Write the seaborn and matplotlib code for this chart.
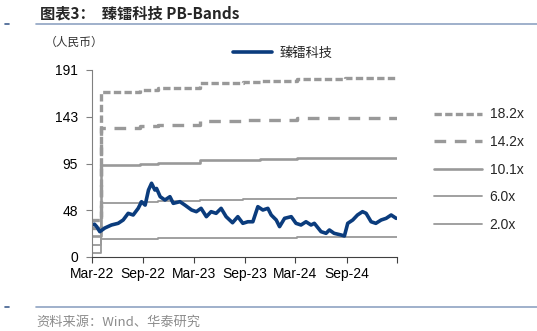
import matplotlib
matplotlib.use("Agg")
import matplotlib.pyplot as plt
from matplotlib.lines import Line2D
import seaborn as sns
import pandas as pd

# ---------------- data ----------------
price_dates = ["2022-03-01", "2022-03-10", "2022-03-18", "2022-03-29", "2022-04-16", "2022-05-10",
               "2022-06-03", "2022-06-21", "2022-07-09", "2022-07-27", "2022-08-14", "2022-08-26",
               "2022-09-08", "2022-09-20", "2022-10-01", "2022-10-13", "2022-10-19", "2022-11-01",
               "2022-11-18", "2022-12-06", "2022-12-18", "2023-01-11", "2023-01-29", "2023-02-22",
               "2023-03-11", "2023-03-28", "2023-04-16", "2023-05-03", "2023-05-21", "2023-06-08",
               "2023-06-26", "2023-07-19", "2023-08-07", "2023-08-25", "2023-09-12", "2023-09-30",
               "2023-10-18", "2023-11-05", "2023-11-23", "2023-12-05", "2023-12-23", "2024-01-04",
               "2024-01-22", "2024-02-15", "2024-03-03", "2024-03-21", "2024-04-08", "2024-04-26",
               "2024-05-08", "2024-06-01", "2024-06-19", "2024-07-01", "2024-07-18", "2024-08-12",
               "2024-08-24", "2024-09-05", "2024-09-23", "2024-10-10", "2024-10-28", "2024-11-10",
               "2024-11-28", "2024-12-15", "2025-01-03", "2025-01-21", "2025-02-08", "2025-02-26"]
price_values = [32.7, 33.5, 31.0, 25.9, 29.6, 32.7,
                34.4, 37.8, 44.6, 42.9, 49.7, 56.5,
                53.0, 68.4, 75.3, 68.4, 70.0, 61.6,
                58.2, 61.6, 54.8, 56.5, 53.0, 48.0,
                46.3, 49.7, 41.2, 46.3, 44.6, 49.7,
                41.2, 35.0, 41.2, 34.4, 36.0, 36.0,
                51.4, 48.0, 49.7, 42.9, 37.8, 31.0,
                39.5, 41.2, 34.4, 32.7, 36.0, 32.7,
                34.4, 25.9, 24.2, 27.6, 24.2, 22.5,
                21.5, 34.4, 37.8, 42.9, 46.3, 44.6,
                36.0, 34.4, 37.8, 39.5, 42.9, 39.5]

# book value per share (step dates) used for the PB bands
bvps_dates = ["2022-03-01", "2022-04-02", "2022-08-20", "2022-10-25", "2023-03-25",
              "2023-08-25", "2023-10-25", "2024-03-05", "2024-08-25", "2025-02-28"]
bvps_values = [2.1, 9.26, 9.40, 9.49, 9.78, 9.82, 9.86, 9.99, 10.02, 10.02]

band_multiples = [18.2, 14.2, 10.1, 6.0, 2.0]
band_labels = ["18.2x", "14.2x", "10.1x", "6.0x", "2.0x"]

y_ticks = [0, 48, 95, 143, 191]
x_tick_dates = ["2022-03-01", "2022-09-01", "2023-03-01", "2023-09-01", "2024-03-01", "2024-09-01", "2025-03-01"]
x_tick_labels = ["Mar-22", "Sep-22", "Mar-23", "Sep-23", "Mar-24", "Sep-24", ""]

series_name = "臻镭科技"

# ---------------- styling ----------------
sns.set_style("ticks")
plt.rcParams["font.family"] = ["Liberation Sans", "Noto Sans CJK SC", "DejaVu Sans"]

W, H = 537, 331
fig = plt.figure(figsize=(W / 100, H / 100), dpi=100)
ax = fig.add_axes([92 / W, 1 - 257 / H, (397 - 92) / W, (257 - 70) / H])

price_df = pd.DataFrame({"date": pd.to_datetime(price_dates), "price": price_values})
bv_df = pd.DataFrame({"date": pd.to_datetime(bvps_dates), "bvps": bvps_values})

gray = "#999999"
band_styles = [
    dict(color=gray, lw=2.4, ls=(0, (2.2, 1.0))),
    dict(color=gray, lw=2.4, ls=(0, (3.5, 2.6))),
    dict(color=gray, lw=1.9, ls="-"),
    dict(color=gray, lw=1.3, ls="-"),
    dict(color=gray, lw=1.3, ls="-"),
]

for m, st in zip(band_multiples, band_styles):
    d = pd.DataFrame({"date": bv_df["date"], "v": bv_df["bvps"] * m})
    sns.lineplot(data=d, x="date", y="v", ax=ax, drawstyle="steps-post",
                 color=st["color"], linewidth=st["lw"], linestyle=st["ls"])

navy = "#0B3C7D"
sns.lineplot(data=price_df, x="date", y="price", ax=ax, color=navy, linewidth=2.6)

ax.set_xlim(pd.Timestamp("2022-03-01"), pd.Timestamp("2025-03-01"))
ax.set_ylim(0, 191)
ax.set_yticks(y_ticks)
ax.set_yticklabels([str(v) for v in y_ticks], fontsize=10)
ax.set_xticks(pd.to_datetime(x_tick_dates))
ax.set_xticklabels(x_tick_labels, fontsize=10)
ax.set_xlabel("")
ax.set_ylabel("")
for s in ["top", "right"]:
    ax.spines[s].set_visible(False)
ax.spines["left"].set_color("#808080")
ax.spines["bottom"].set_color("#404040")
ax.tick_params(axis="y", length=4, color="#808080", pad=6, labelcolor="black")
ax.tick_params(axis="x", length=4, color="#404040", pad=3, labelcolor="black")
ax.grid(False)

# legends
h_price = [Line2D([0], [0], color=navy, lw=2.6)]
fig.legend(h_price, [series_name], loc="center left",
           bbox_to_anchor=(221 / W, 1 - 53 / H), frameon=False,
           handlelength=3.0, handletextpad=0.55,
           prop={"family": ["Noto Sans CJK SC"], "size": 9.5})

h_bands = [Line2D([0], [0], color=st["color"], lw=st["lw"], ls=st["ls"]) for st in band_styles]
fig.legend(h_bands, band_labels, loc="upper left",
           bbox_to_anchor=(421 / W, 1 - 95 / H), frameon=False,
           fontsize=10, handlelength=3.5, handletextpad=0.55, labelspacing=0.98)

# title, unit, source, rules
fig.text(40 / W, 1 - 13 / H, "图表3：  臻镭科技 PB-Bands", fontsize=11, fontweight="bold",
         va="center", ha="left", family=["Noto Sans CJK SC", "DejaVu Sans"])
fig.text(45 / W, 1 - 42 / H, "（人民币）", fontsize=8.5, va="center", ha="left",
         family=["Noto Sans CJK SC"], color="#333333")
fig.text(36 / W, 1 - 322 / H, "资料来源：Wind、华泰研究", fontsize=9.5, va="center", ha="left",
         family=["Noto Sans CJK SC"], color="#8c8c8c")

rule = "#8FA3C2"
fig.add_artist(Line2D([36 / W, 1.0], [1 - 23.5 / H] * 2, color=rule, lw=1.2))
fig.add_artist(Line2D([5 / W, 9 / W], [1 - 23.5 / H] * 2, color="#3F5F8F", lw=1.2))
fig.add_artist(Line2D([36 / W, 1.0], [1 - 306.5 / H] * 2, color=rule, lw=1.2))
fig.add_artist(Line2D([5 / W, 9 / W], [1 - 306.5 / H] * 2, color="#3F5F8F", lw=1.2))

fig.savefig("out.png", dpi=100)
